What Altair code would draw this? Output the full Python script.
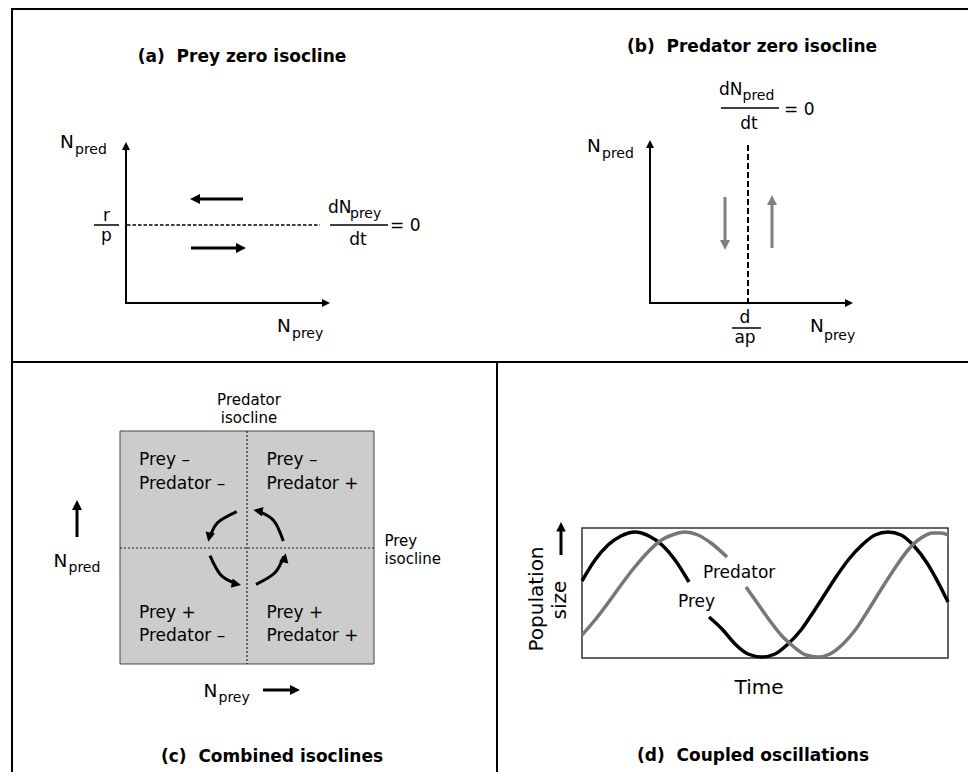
import altair as alt
import pandas as pd

FONT = "DejaVu Sans"
BLACK = "#000000"
GRAY = "#808080"
CURVE_GRAY = "#777777"
NB = "\u00a0"

# Diagram canvas (figure units)
X_DOMAIN = [8, 968]
Y_DOMAIN = [8, 772]

# ---------------- panel frame ----------------
frame_lines = [(12, 8, 12, 772), (11, 9, 968, 9), (12, 362, 968, 362), (497, 362, 497, 772)]

# ---------------- solid lines ----------------
axis_lines = [(126, 304, 126, 149), (125, 303, 323, 303),      # (a)
              (650, 304, 650, 147), (649, 303, 846, 303)]      # (b)
fraction_bars = [(94, 225, 119, 225), (330, 225, 388, 225),
                 (721, 108, 779, 108), (732, 328, 761, 328)]
arrow_shafts = [(243, 199, 197, 199, BLACK), (191, 248, 239, 248, BLACK),   # (a)
                (725, 197, 725, 243, GRAY), (772, 248, 772, 202, GRAY),     # (b)
                (77, 537, 77, 507, BLACK), (263, 690, 293, 690, BLACK),     # (c)
                (561, 555, 561, 529, BLACK)]                                 # (d)

# ---------------- dashed / dotted isoclines ----------------
prey_isocline_a = [(127, 225, 320, 225)]
pred_isocline_b = [(748, 145, 748, 303)]
isoclines_c = [(247, 431, 247, 664), (120, 548, 374, 548)]

# ---------------- boxes ----------------
box_c = [(120, 431, 374, 664)]
box_d = [(582, 528, 948, 658)]

# ---------------- circular arrows (c) ----------------
arc_names = ["tl", "tr", "bl", "br"]
arc_x = [[236.7, 218.2, 210.8], [283.3, 273.6, 257.3], [210.0, 220.8, 235.4], [256.0, 274.9, 283.6]]
arc_y = [[511.7, 522.2, 535.0], [541.0, 520.4, 510.8], [555.7, 575.1, 583.4], [584.3, 572.7, 556.5]]

# ---------------- arrow heads (tip position, direction, size) ----------------
head_x = [126, 330, 190, 246, 650, 853, 725, 772, 77, 300, 208.3, 253.3, 241.0, 285.7, 561]
head_y = [142, 303, 199, 248, 140, 303, 250, 195, 500, 690, 541.7, 510.0, 585.0, 553.3, 522]
head_angle = [0, 90, 270, 90, 0, 90, 180, 0, 0, 90, 192, 280, 102, 12, 0]
head_size = [64, 64, 100, 100, 64, 64, 100, 100, 100, 100, 90, 90, 90, 90, 90]
head_color = [BLACK] * 6 + [GRAY, GRAY] + [BLACK] * 7
HEAD_SHAPE = "M0,0L1,2L-1,2Z"

# ---------------- (d) coupled oscillations ----------------
prey_t1 = [582, 595, 608, 621, 635, 649, 662, 675, 689]
prey_n1 = [581, 560, 545, 536, 532, 536, 545, 560, 582]
prey_t2 = [709, 722, 735, 748, 762, 775, 788, 801, 814, 825, 836, 849, 862, 875, 888, 901, 914, 927, 940, 948]
prey_n2 = [617, 629, 644, 654, 657, 654, 644, 630, 611, 594, 577, 559, 545, 535, 532, 535, 546, 563, 586, 602]
pred_t1 = [582, 595, 608, 621, 634, 647, 660, 672, 685, 698, 711, 727]
pred_n1 = [635, 620, 603, 585, 568, 553, 541, 535, 532, 535, 543, 557]
pred_t2 = [746, 758, 770, 782, 794, 806, 818, 830, 843, 856, 869, 882, 895, 908, 921, 933, 941, 948]
pred_n2 = [587, 604, 621, 636, 647, 655, 657, 654, 644, 629, 609, 588, 568, 550, 538, 533, 533, 535]

# ---------------- texts ----------------
titles = [f"(a){NB} Prey zero isocline", f"(b){NB} Predator zero isocline",
          f"(c){NB} Combined isoclines", f"(d){NB} Coupled oscillations"]
title_x = [242, 752, 272, 753]
title_y = [62, 52, 762, 761]

left_labels = ["N", "pred", "dN", "prey", "= 0", "N", "prey",
               "dN", "pred", "= 0", "N", "pred", "N", "prey",
               "Prey –", "Predator –", "Prey –", "Predator +",
               "Prey +", "Predator –", "Prey +", "Predator +",
               "Prey", "isocline", "N", "pred", "N", "prey",
               "Predator", "Prey"]
left_x = [60, 75, 328, 350, 390, 277, 292,
          719, 742.5, 784, 587, 602, 810, 824,
          139, 139, 266.5, 266.5, 139, 139, 266.5, 266.5,
          384.5, 384.5, 53.5, 68.5, 203.5, 218.5,
          703, 678]
left_y = [148, 154, 213, 218, 231, 332, 338,
          95, 100, 115, 152, 158, 332, 340,
          465, 489, 465, 489, 618, 641, 618, 641,
          546, 564, 567, 572, 697, 702,
          578, 607]
left_size = [18.5, 14, 17, 14, 17, 18.5, 14,
             17, 14, 17, 18.5, 14, 18.5, 14,
             17, 17, 17, 17, 17, 17, 17, 17,
             15, 15, 18.5, 14, 18.5, 14,
             17, 17]

center_labels = ["r", "p", "dt", "dt", "d", "ap", "Predator", "isocline", "Time"]
center_x = [106.5, 106.5, 358, 749, 745, 745, 249, 249, 759]
center_y = [221, 241, 245, 129, 323, 343, 405, 423, 694]
center_size = [17, 17, 17, 17, 17, 17, 15, 15, 20]

rot_labels = ["Population", "size"]
rot_x = [543, 566]
rot_y = [599, 600]
rot_size = [20, 20]

# ================= build =================
xs = alt.Scale(domain=X_DOMAIN, nice=False, zero=False)
ys = alt.Scale(domain=Y_DOMAIN, nice=False, zero=False, reverse=True)


def seg_df(rows, width, color=BLACK):
    recs = []
    for r in rows:
        c = r[4] if len(r) > 4 else color
        recs.append(dict(x1=r[0], y1=r[1], x2=r[2], y2=r[3], w=width, color=c))
    return pd.DataFrame(recs)


def rule_layer(df, dash=None):
    kw = dict(strokeCap="butt")
    if dash:
        kw["strokeDash"] = dash
    return alt.Chart(df).mark_rule(**kw).encode(
        x=alt.X("x1:Q", scale=xs, axis=None),
        y=alt.Y("y1:Q", scale=ys, axis=None),
        x2="x2:Q", y2="y2:Q",
        color=alt.Color("color:N", scale=None),
        strokeWidth=alt.StrokeWidth("w:Q", scale=None),
    )


def rect_layer(rows, fill, stroke, sw):
    df = pd.DataFrame([dict(x1=r[0], y1=r[1], x2=r[2], y2=r[3]) for r in rows])
    return alt.Chart(df).mark_rect(fill=fill, stroke=stroke, strokeWidth=sw).encode(
        x=alt.X("x1:Q", scale=xs, axis=None),
        y=alt.Y("y1:Q", scale=ys, axis=None),
        x2="x2:Q", y2="y2:Q",
    )


def text_layer(labels, xv, yv, sizes, align="left", bold=False, angle=0):
    df = pd.DataFrame(dict(label=labels, x=xv, y=yv, size=sizes))
    kw = dict(font=FONT, baseline="alphabetic", align=align, color=BLACK)
    if bold:
        kw["fontWeight"] = "bold"
    if angle:
        kw["angle"] = angle
    return alt.Chart(df).mark_text(**kw).encode(
        x=alt.X("x:Q", scale=xs, axis=None),
        y=alt.Y("y:Q", scale=ys, axis=None),
        text="label:N",
        size=alt.Size("size:Q", scale=None),
    )


# rectangles
rect_c = rect_layer(box_c, "#cccccc", "#444444", 1)
rect_d = rect_layer(box_d, "#ffffff", "#333333", 1.5)

# rules
frame = rule_layer(seg_df(frame_lines, 2))
axes = rule_layer(seg_df(axis_lines, 2))
bars = rule_layer(seg_df(fraction_bars, 1.5))
shafts = rule_layer(seg_df(arrow_shafts, 3))
dash_a = rule_layer(seg_df(prey_isocline_a, 1.5), dash=[3.5, 2])
dash_b = rule_layer(seg_df(pred_isocline_b, 2), dash=[6, 3])
dot_c = rule_layer(seg_df(isoclines_c, 1.2, "#222222"), dash=[2, 2])

# arcs
arc_rows = []
for name, xv, yv in zip(arc_names, arc_x, arc_y):
    for i, (a, b) in enumerate(zip(xv, yv)):
        arc_rows.append(dict(arc=name, i=i, x=a, y=b))
arcs = alt.Chart(pd.DataFrame(arc_rows)).mark_line(
    interpolate="cardinal", strokeWidth=3, color=BLACK, strokeCap="butt"
).encode(
    x=alt.X("x:Q", scale=xs, axis=None),
    y=alt.Y("y:Q", scale=ys, axis=None),
    detail="arc:N", order="i:Q",
)

# heads
heads_df = pd.DataFrame(dict(x=head_x, y=head_y, angle=head_angle, size=head_size, color=head_color))
heads = alt.Chart(heads_df).mark_point(
    shape=HEAD_SHAPE, filled=True, opacity=1, strokeWidth=0
).encode(
    x=alt.X("x:Q", scale=xs, axis=None),
    y=alt.Y("y:Q", scale=ys, axis=None),
    angle=alt.Angle("angle:Q", scale=None),
    size=alt.Size("size:Q", scale=None),
    color=alt.Color("color:N", scale=None),
)

# curves (d)
curve_rows = []
for seg, tv, nv, col in [("prey1", prey_t1, prey_n1, BLACK), ("prey2", prey_t2, prey_n2, BLACK),
                         ("pred1", pred_t1, pred_n1, CURVE_GRAY), ("pred2", pred_t2, pred_n2, CURVE_GRAY)]:
    for a, b in zip(tv, nv):
        curve_rows.append(dict(seg=seg, t=a, n=b, color=col))
curves = alt.Chart(pd.DataFrame(curve_rows)).mark_line(
    interpolate="monotone", strokeWidth=3.5, strokeCap="butt"
).encode(
    x=alt.X("t:Q", scale=xs, axis=None),
    y=alt.Y("n:Q", scale=ys, axis=None),
    detail="seg:N",
    color=alt.Color("color:N", scale=None),
)

t_titles = text_layer(titles, title_x, title_y, [17] * 4, align="center", bold=True)
t_left = text_layer(left_labels, left_x, left_y, left_size, align="left")
t_center = text_layer(center_labels, center_x, center_y, center_size, align="center")
t_rot = text_layer(rot_labels, rot_x, rot_y, rot_size, align="center", angle=270)

chart = alt.layer(
    rect_c, rect_d, frame, dash_a, dash_b, dot_c, axes, bars, shafts,
    arcs, curves, heads, t_titles, t_left, t_center, t_rot
).properties(
    width=960, height=764, padding=0,
    autosize=alt.AutoSizeParams(type="none"),
    background="white",
).configure_view(strokeWidth=0)

chart.save("out.html", embed_options={"renderer": "svg", "actions": False})
